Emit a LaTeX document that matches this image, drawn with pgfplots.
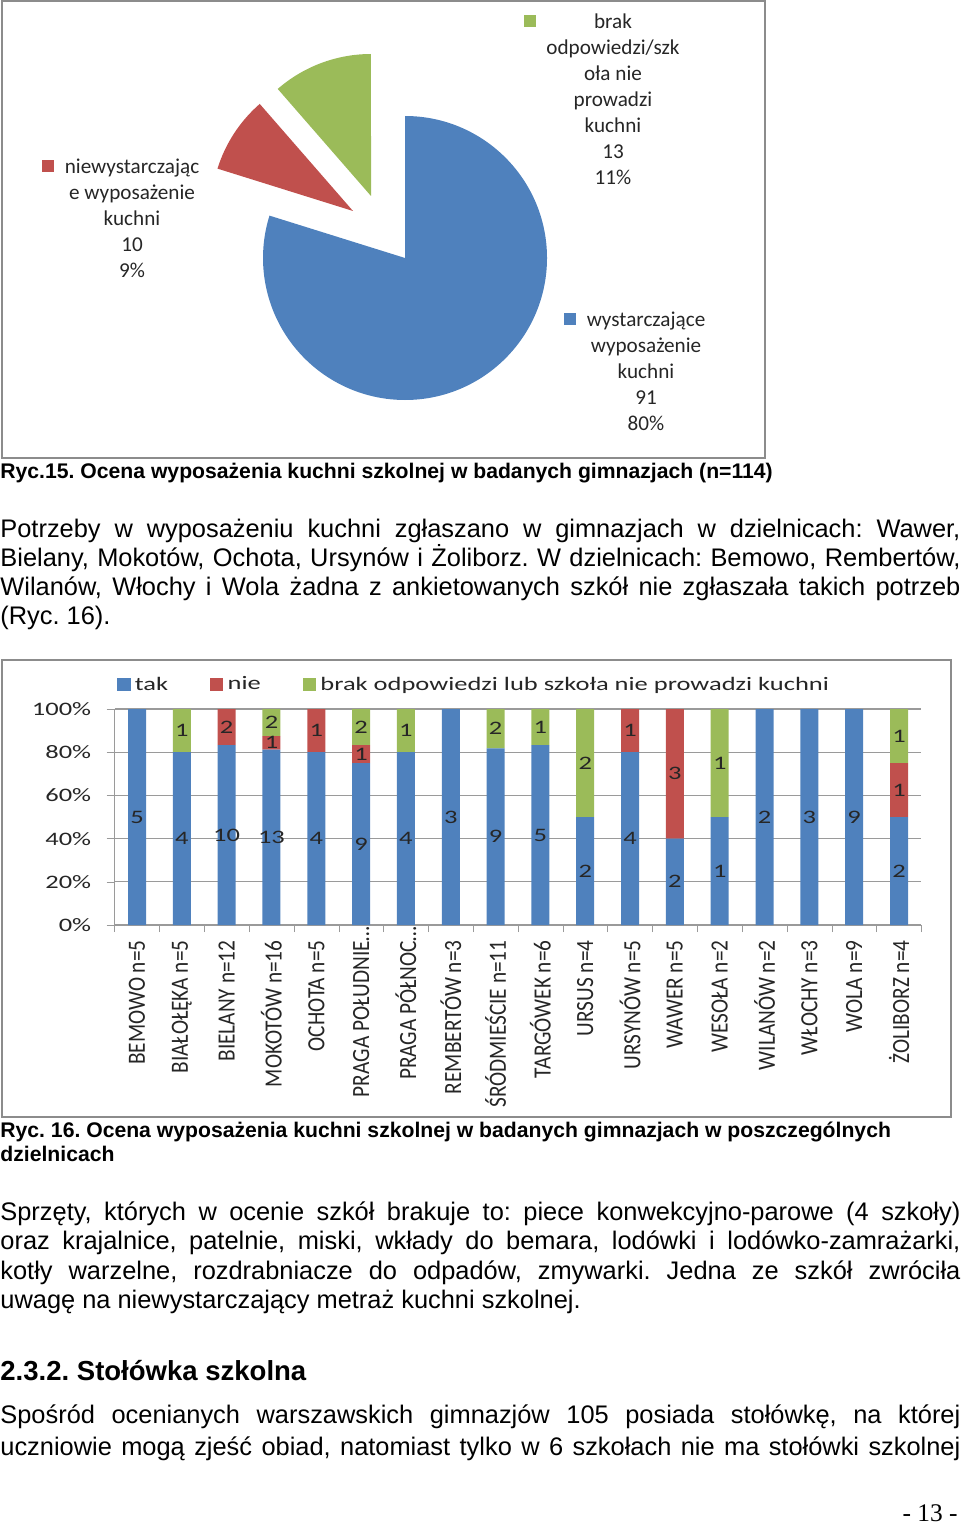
\documentclass[border=0pt]{standalone}
\usepackage{pgfplots}
\pgfplotsset{compat=1.18}
\usepackage{pgfplotstable}
\usepackage{fontspec}
\setmainfont{Liberation Sans}
\newfontfamily\timesfont{Liberation Serif}
\newfontfamily\piefont{Carlito}
\newfontfamily\chartfont[FakeStretch=1.39]{Carlito}
\newfontfamily\rotfont[FakeStretch=0.86]{Carlito}

\definecolor{xblue}{HTML}{4F81BD}
\definecolor{xred}{HTML}{C0504D}
\definecolor{xgreen}{HTML}{9BBB59}
\definecolor{framegray}{HTML}{8C8C8C}
\definecolor{gridgray}{HTML}{9A9A9A}
\definecolor{lbl}{HTML}{262626}

\newdimen\px \px=0.4724pt
\pgfplotsset{/pgf/number format/assume math mode=true}
% truncated category names run up to the axis
\newcommand\cut[1]{\makebox[\dimexpr\width-14\px\relax][l]{#1}}

% Ryc. 15 - pie data
\pgfplotstableread{
part value
wystarczajace 91
niewystarczajace 10
brak 13
}\piedata

% Ryc. 16 - counts per district
\pgfplotstableread{
idx tak nie brak
0 5 0 0
1 4 0 1
2 10 2 0
3 13 1 2
4 4 1 0
5 9 1 2
6 4 0 1
7 3 0 0
8 9 0 2
9 5 0 1
10 2 0 2
11 4 1 0
12 2 3 0
13 1 0 1
14 2 0 0
15 3 0 0
16 9 0 0
17 2 1 1
}\bardata

\begin{document}
\frenchspacing
\begin{tikzpicture}
\pgfplotstablegetelem{0}{value}\of\piedata \let\va\pgfplotsretval
\pgfplotstablegetelem{1}{value}\of\piedata \let\vb\pgfplotsretval
\pgfplotstablegetelem{2}{value}\of\piedata \let\vc\pgfplotsretval
\pgfmathsetmacro\tot{\va+\vb+\vc}
\pgfmathsetmacro\aA{90-360*(\va/\tot)}
\pgfmathsetmacro\aB{\aA-360*(\vb/\tot)}
\pgfmathsetmacro\aC{\aB-360*(\vc/\tot)}
\begin{scope}[x=\px, y=-\px]
\useasboundingbox (0,0) rectangle (960,1525);
\coordinate (pieNW) at (0,0);
\coordinate (barNW) at (114.6,709);
% frames
\draw[framegray, line width=1.5\px] (2,1) rectangle (765,458);
\draw[framegray, line width=1.5\px] (2,660) rectangle (951,1117);

% pie labels
\begin{scope}[every node/.style={font=\piefont\fontsize{10}{12.3}\selectfont, align=center, text=lbl, inner sep=0pt}]
\fill[xgreen] (524,15.5) rectangle +(12,12);
\node at (613,99) {brak\\odpowiedzi/szk\\oła nie\\prowadzi\\kuchni\\13\\11\%};
\fill[xred] (41.5,160) rectangle +(12,12);
\node at (132,218) {niewystarczając\\e wyposażenie\\kuchni\\10\\9\%};
\fill[xblue] (564,313) rectangle +(12,12);
\node at (646,371) {wystarczające\\wyposażenie\\kuchni\\91\\80\%};
\end{scope}

% text
\begin{scope}[every node/.style={anchor=base west, inner sep=0pt}]
\node[font=\bfseries\fontsize{10}{11.5}\selectfont] at (0,478) {Ryc.15. Ocena wyposażenia kuchni szkolnej w badanych gimnazjach (n=114)};
\node[font=\fontsize{12}{13.8}\selectfont] at (0,537) {\makebox[960\px][s]{Potrzeby w wyposażeniu kuchni zgłaszano w gimnazjach w dzielnicach: Wawer,}};
\node[font=\fontsize{12}{13.8}\selectfont] at (0,566) {\makebox[960\px][s]{Bielany, Mokotów, Ochota, Ursynów i Żoliborz. W dzielnicach: Bemowo, Rembertów,}};
\node[font=\fontsize{12}{13.8}\selectfont] at (0,595) {\makebox[960\px][s]{Wilanów, Włochy i Wola żadna z ankietowanych szkół nie zgłaszała takich potrzeb}};
\node[font=\fontsize{12}{13.8}\selectfont] at (0,624) {(Ryc. 16).};
\node[font=\bfseries\fontsize{10}{11.5}\selectfont] at (0,1137) {Ryc. 16. Ocena wyposażenia kuchni szkolnej w badanych gimnazjach w poszczególnych};
\node[font=\bfseries\fontsize{10}{11.5}\selectfont] at (0,1161) {dzielnicach};
\node[font=\fontsize{12}{13.8}\selectfont] at (0,1220) {\makebox[960\px][s]{Sprzęty, których w ocenie szkół brakuje to: piece konwekcyjno-parowe (4 szkoły)}};
\node[font=\fontsize{12}{13.8}\selectfont] at (0,1249) {\makebox[960\px][s]{oraz krajalnice, patelnie, miski, wkłady do bemara, lodówki i lodówko-zamrażarki,}};
\node[font=\fontsize{12}{13.8}\selectfont] at (0,1279) {\makebox[960\px][s]{kotły warzelne, rozdrabniacze do odpadów, zmywarki. Jedna ze szkół zwróciła}};
\node[font=\fontsize{12}{13.8}\selectfont] at (0,1308) {uwagę na niewystarczający metraż kuchni szkolnej.};
\node[font=\bfseries\fontsize{13}{15}\selectfont] at (0,1380) {2.3.2. Stołówka szkolna};
\node[font=\fontsize{12}{13.8}\selectfont] at (0,1423) {\makebox[960\px][s]{Spośród ocenianych warszawskich gimnazjów 105 posiada stołówkę, na której}};
\node[font=\fontsize{12}{13.8}\selectfont] at (0,1455) {\makebox[960\px][s]{uczniowie mogą zjeść obiad, natomiast tylko w 6 szkołach nie ma stołówki szkolnej}};
\node[font=\timesfont\fontsize{12}{13.8}\selectfont, anchor=base east] at (958,1521) {- 13 -};
\end{scope}
\end{scope}

% Ryc. 15 pie
\begin{axis}[at={(pieNW)}, anchor=north west, x=\px, y=\px, y dir=reverse,
  xmin=0, xmax=765, ymin=0, ymax=458, hide axis, clip=false]
\fill[xblue] (axis cs:405,258) -- ++(90:142\px) arc[start angle=90, end angle=\aA, radius=142\px] -- cycle;
\fill[xred] (axis cs:353,211) -- ++(\aA:142\px) arc[start angle=\aA, end angle=\aB, radius=142\px] -- cycle;
\fill[xgreen] (axis cs:371,196) -- ++(\aB:142\px) arc[start angle=\aB, end angle=\aC, radius=142\px] -- cycle;
\end{axis}

% Ryc. 16 stacked bars
\begin{axis}[at={(barNW)}, anchor=north west,
  scale only axis, width=806.8\px, height=216\px,
  ybar stacked, bar width=18\px,
  xmin=-0.5, xmax=17.5, ymin=0, ymax=100,
  axis lines=left, axis line style={-, draw=gridgray},
  ymajorgrids, grid style={draw=gridgray, line width=0.5pt},
  tick align=outside,
  ytick={0,20,...,100}, yticklabel={\pgfmathprintnumber{\tick}\%},
  ytick style={draw=gridgray}, major tick length=8\px,
  yticklabel style={font=\chartfont\fontsize{9}{10}\selectfont, text=lbl, xshift=-8\px},
  xtick={0,...,17},
  xticklabels={BEMOWO n=5, BIAŁOŁĘKA n=5, BIELANY n=12, MOKOTÓW n=16, OCHOTA n=5, \cut{PRAGA POŁUDNIE…}, \cut{PRAGA PÓŁNOC…}, REMBERTÓW n=3, ŚRÓDMIEŚCIE n=11, TARGÓWEK n=6, URSUS n=4, URSYNÓW n=5, WAWER n=5, WESOŁA n=2, WILANÓW n=2, WŁOCHY n=3, WOLA n=9, ŻOLIBORZ n=4},
  xtick style={draw=none},
  xticklabel style={rotate=90, anchor=east, text=lbl, font=\rotfont\fontsize{11.7}{12}\selectfont},
  extra x ticks={-0.5,0.5,...,17.5}, extra x tick labels={},
  extra x tick style={xtick style={draw=gridgray}, major tick length=7\px},
  legend columns=3,
  legend style={at={(0.003,1.111)}, anchor=west, draw=none, fill=none, inner sep=0pt,
    font=\chartfont\fontsize{9}{10}\selectfont, text=lbl,
    /tikz/every even column/.append style={column sep=38\px}},
  legend image code/.code={\fill[#1] (0pt,-3pt) rectangle (6.2pt,3.2pt);},
]
\addplot[fill=xblue, draw=none] table[x=idx, y expr={100*\thisrow{tak}/(\thisrow{tak}+\thisrow{nie}+\thisrow{brak})}]{\bardata};
\addplot[fill=xred, draw=none] table[x=idx, y expr={100*\thisrow{nie}/(\thisrow{tak}+\thisrow{nie}+\thisrow{brak})}]{\bardata};
\addplot[fill=xgreen, draw=none] table[x=idx, y expr={100*\thisrow{brak}/(\thisrow{tak}+\thisrow{nie}+\thisrow{brak})}]{\bardata};
\legend{tak, nie, brak odpowiedzi lub szkoła nie prowadzi kuchni}
\end{axis}

% data labels, centred in each segment
\begin{axis}[at={(barNW)}, anchor=north west,
  scale only axis, width=806.8\px, height=216\px,
  xmin=-0.5, xmax=17.5, ymin=0, ymax=100, hide axis, clip=false,
  nodes near coords={\pgfmathfloatifflags{\pgfplotspointmeta}{0}{}{\pgfmathprintnumber{\pgfplotspointmeta}}},
  every node near coord/.append style={font=\chartfont\fontsize{9}{10}\selectfont, text=lbl, anchor=center, inner sep=0pt},
]
\addplot[draw=none, point meta=\thisrow{tak}] table[x=idx, y expr={50*\thisrow{tak}/(\thisrow{tak}+\thisrow{nie}+\thisrow{brak})}]{\bardata};
\addplot[draw=none, point meta=\thisrow{nie}] table[x=idx, y expr={100*(\thisrow{tak}+0.5*\thisrow{nie})/(\thisrow{tak}+\thisrow{nie}+\thisrow{brak})}]{\bardata};
\addplot[draw=none, point meta=\thisrow{brak}] table[x=idx, y expr={100*(\thisrow{tak}+\thisrow{nie}+0.5*\thisrow{brak})/(\thisrow{tak}+\thisrow{nie}+\thisrow{brak})}]{\bardata};
\end{axis}
\end{tikzpicture}
\end{document}
